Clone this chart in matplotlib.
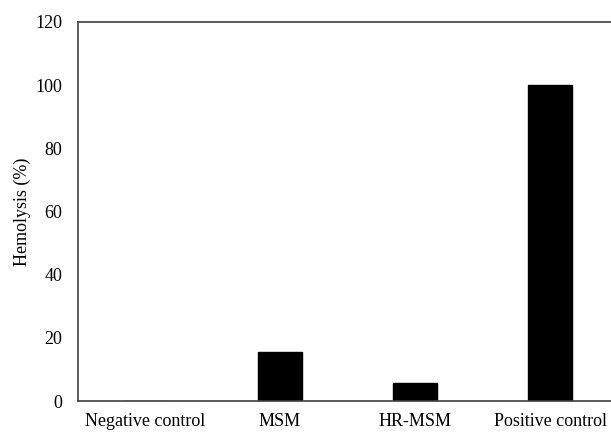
import matplotlib
matplotlib.use("Agg")
import matplotlib.pyplot as plt

categories = ["Negative control", "MSM", "HR-MSM", "Positive control"]
hemolysis = [0.0, 15.5, 5.6, 100.0]
y_ticks = [0, 20, 40, 60, 80, 100, 120]

plt.rcParams["font.family"] = ["Liberation Serif", "DejaVu Serif"]

fig = plt.figure(figsize=(6.11, 4.32), dpi=100)
ax = fig.add_axes([77.5 / 611, 1 - 401 / 432, 540 / 611, 379 / 432])

x = range(len(categories))
ax.bar(x, hemolysis, width=0.32, color="black", edgecolor="black")

ax.set_xlim(-0.5, 3.5)
ax.set_ylim(0, 120)
ax.set_yticks(y_ticks)
ax.set_xticks(list(x))
ax.set_xticklabels(categories)
ax.tick_params(axis="both", length=0, labelsize=13, colors="black")
ax.tick_params(axis="y", pad=11)
ax.tick_params(axis="x", pad=9)
ax.set_ylabel("Hemolysis (%)", fontsize=13, labelpad=3)

for side in ["left", "bottom", "top"]:
    ax.spines[side].set_color("#404040")
    ax.spines[side].set_linewidth(1.2)
ax.spines["right"].set_visible(False)

fig.savefig("out.png", dpi=100, facecolor="white")
